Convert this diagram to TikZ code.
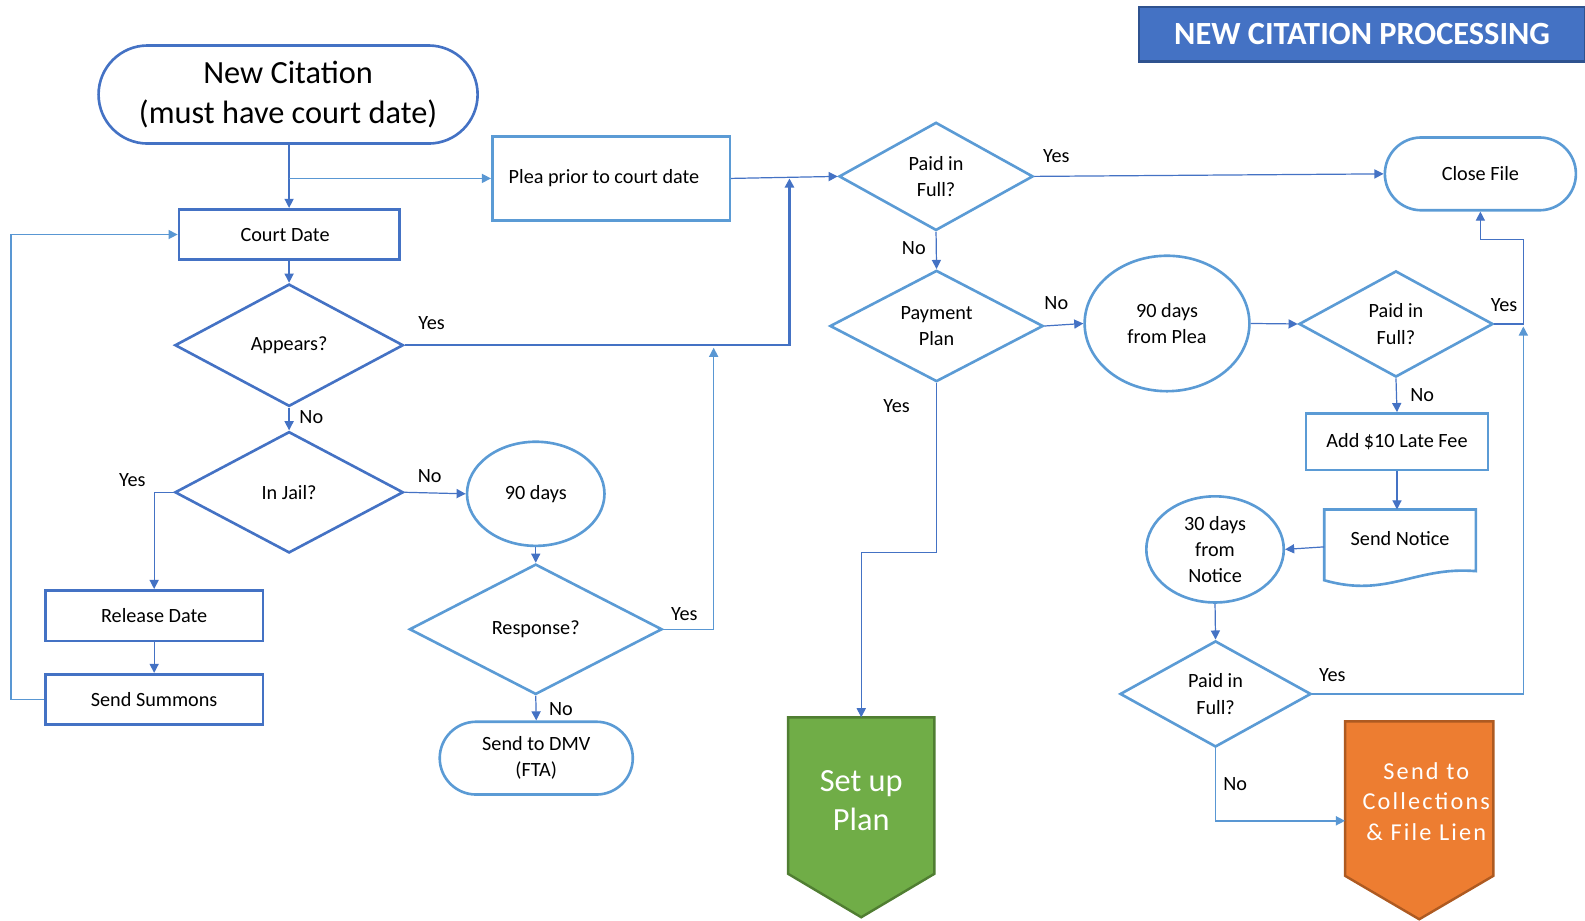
\documentclass[tikz,border=0pt]{standalone}
\usepackage{fontspec}
\setmainfont{Carlito}
\usetikzlibrary{shapes.geometric,shapes.misc,arrows.meta,calc,backgrounds}
\definecolor{dblue}{HTML}{4472C4}
\definecolor{lblue}{HTML}{5B9BD5}
\definecolor{tborder}{HTML}{2F528F}
\definecolor{gfill}{HTML}{70AD47}
\definecolor{gborder}{HTML}{507E32}
\definecolor{ofill}{HTML}{ED7D31}
\definecolor{oborder}{HTML}{AE5A21}
\tikzset{
 base/.style={font=\fontsize{10}{13}\selectfont, align=center, inner sep=0pt, text=black},
 sz/.style 2 args={minimum width=#1, minimum height=#2},
 dbox/.style={base, draw=dblue, line width=1.3pt, rectangle},
 lbox/.style={base, draw=lblue, line width=1.3pt, rectangle},
 ddia/.style={base, draw=dblue, line width=1.3pt, diamond},
 ldia/.style={base, draw=lblue, line width=1.3pt, diamond},
 lell/.style={base, draw=lblue, line width=1.3pt, ellipse},
 dterm/.style={base, draw=dblue, line width=1.3pt, rounded rectangle},
 lterm/.style={base, draw=lblue, line width=1.3pt, rounded rectangle},
 conn/.style={draw=dblue, line width=0.6pt, -{Triangle[length=4.5pt,width=4.5pt]}},
 connl/.style={draw=lblue!90!dblue, line width=0.7pt, -{Triangle[length=4.5pt,width=4.5pt]}},
 lab/.style={font=\fontsize{10}{12}\selectfont, inner sep=0pt},
 wtext/.style={inner sep=0pt, text=white, align=center},
}
\begin{document}
\begin{tikzpicture}[x=0.5pt,y=-0.5pt]
\useasboundingbox (0,0) rectangle (1568,911);
% title
\node[draw=tborder, fill=dblue, line width=1.2pt, sz={220.5pt}{27pt}, text=white,
  font=\fontsize{16}{19}\bfseries] (title) at (1347.5,34) {NEW CITATION PROCESSING};
% left part
\node[dterm, sz={187.5pt}{48.5pt}, font=\fontsize{16}{19.5}\selectfont] (nc) at (285,93.5) {New Citation\\(must have court date)};
\node[lbox, sz={117.5pt}{41.5pt}] (plea) at (604.5,176.5) {Plea prior to court date\hspace*{7pt}};
\node[dbox, sz={109pt}{25pt}] (cd) at (286,232) {Court Date\hspace*{4pt}};
\node[ddia, sz={113pt}{60.5pt}] (ap) at (286,341.5) {Appears?};
\node[ddia, sz={113pt}{60pt}] (ij) at (286,487) {In Jail?};
\node[dbox, sz={107.5pt}{25pt}] (rd) at (152.5,609) {Release Date};
\node[dbox, sz={107.5pt}{25pt}] (ss) at (152.5,692) {Send Summons};
\node[lell, sz={68pt}{51.5pt}] (d90) at (530,488.5) {90 days};
\node[ldia, sz={125pt}{64.5pt}] (resp) at (530,622.5) {Response?};
\node[lterm, sz={95.5pt}{36pt}] (dmv) at (530.5,750) {Send to DMV\\(FTA)};
% right part
\node[ldia, sz={96pt}{53.5pt}] (pf1) at (926,174.5) {Paid in\\Full?};
\node[lterm, sz={94.5pt}{36pt}] (cf) at (1464.5,172) {Close File};
\node[ldia, sz={105.5pt}{52.5pt}] (pp) at (926.5,322.5) {Payment\\Plan};
\node[lell, sz={81.5pt}{67pt}] (p90) at (1154.5,320) {90 days\\from Plea};
\node[ldia, sz={96pt}{52.5pt}] (pf2) at (1381,320.5) {Paid in\\Full?};
\node[lbox, sz={90pt}{28pt}] (fee) at (1382,437) {Add \$10 Late Fee};
\node[base, sz={75pt}{28pt}] (notice) at (1385,533) {Send Notice};
\draw[lblue, line width=1.3pt] (1310,504) -- (1460,504) -- (1460,565)
   .. controls (1400,560) and (1372,592) .. (1310,574) -- cycle;
\node[lell, sz={68pt}{52.5pt}] (d30) at (1202,543.5) {30 days\\from\\Notice};
\node[ldia, sz={94.5pt}{52.5pt}] (pf3) at (1202.5,686.5) {Paid in\\Full?};
% terminal arrows
\node[sz={72pt}{77pt}, inner sep=0pt] (plan) at (852,787) {};
\node[sz={73pt}{76pt}, inner sep=0pt] (coll) at (1404,790) {};
\begin{pgfonlayer}{background}
\draw[gborder, fill=gfill, line width=1.2pt] (plan.north west) -- (plan.north east) -- (plan.south east)
  -- ($(plan.south)+(0,43)$) -- (plan.south west) -- cycle;
\draw[oborder, fill=ofill, line width=1.2pt] (coll.north west) -- (coll.north east) -- (coll.south east)
  -- ($(coll.south)+(0,43)$) -- (coll.south west) -- cycle;
\end{pgfonlayer}
\node[wtext, font=\fontsize{16}{19}\selectfont] (plantext) at (852,792) {Set up\\Plan};
\node[wtext, font=\fontsize{12}{15}\selectfont\addfontfeatures{LetterSpace=9}] (colltext) at (1411,793) {Send to\\Collections\\\&~File Lien};
% junction coordinates
\coordinate (j1) at (781,176.5);
\coordinate (j2) at (706,344);
\coordinate (j3) at (1507,237);
\coordinate (j4) at (1507,323);
% connectors left
\draw[conn] (cd.north |- nc.south) -- (cd.north);
\draw[connl] (cd.north |- plea.west) -- (plea.west);
\draw[conn] (plea.east) -- (pf1.west);
\draw[conn, line width=1.2pt] (ap.east) -| (j1);
\draw[conn] (cd.south) -- (ap.north);
\draw[conn] (ap.south) -- (ij.north);
\draw[conn] (ij.west) -| (rd.north);
\draw[conn] (ij.east) -- (d90.west);
\draw[conn] (d90.south) -- (resp.north);
\draw[connl] (resp.east) -| (j2);
\draw[conn] (resp.south) -- (dmv.north);
\draw[conn] (rd.south) -- (ss.north);
\draw[connl] (ss.west) -- ++(-33,0) |- (cd.west);
% connectors right
\draw[conn] (pf1.east) -- (cf.west);
\draw[conn] (pf1.south) -- (pp.north);
\draw[conn] (pp.east) -- (p90.west);
\draw[conn] (p90.east) -- (pf2.west);
\draw[conn] (pf2.east) -| (j3) -| (cf.south);
\draw[connl] (pf3.east) -| (j4);
\draw[conn] (pf2.south) -- (fee.north);
\draw[conn] (fee.south) -- (fee.south |- 0,504);
\draw[conn] (1310,541) -- (d30.east);
\draw[conn] (d30.south) -- (pf3.north);
\draw[connl] (pf3.south) |- ([yshift=-11pt]coll.west);
\draw[conn] (pp.south) -- ++(0,168) -| (plan.north);
% labels
\node[lab] (l1) at (427,320) {Yes};
\node[lab] (l2) at (308,413) {No};
\node[lab] (l3) at (131,475) {Yes};
\node[lab] (l4) at (425,471) {No};
\node[lab] (l5) at (677,607) {Yes};
\node[lab] (l6) at (555,701) {No};
\node[lab] (l7) at (1045,154) {Yes};
\node[lab] (l8) at (904,245) {No};
\node[lab] (l9) at (1045,300) {No};
\node[lab] (l10) at (887,402) {Yes};
\node[lab] (l11) at (1488,302) {Yes};
\node[lab] (l12) at (1407,391) {No};
\node[lab] (l13) at (1318,668) {Yes};
\node[lab] (l14) at (1222,776) {No};
\end{tikzpicture}
\end{document}
